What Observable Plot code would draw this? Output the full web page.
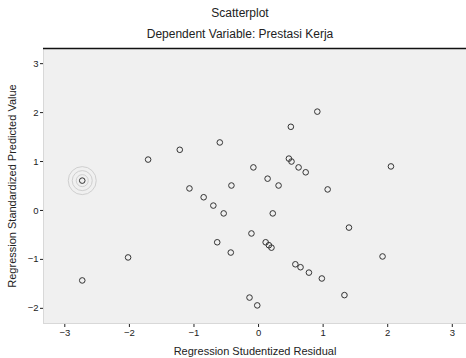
<!DOCTYPE html>
<html>
<head>
<meta charset="utf-8">
<script src="https://cdn.jsdelivr.net/npm/d3@7"></script>
<script src="https://cdn.jsdelivr.net/npm/@observablehq/plot@0.6"></script>
<style>
  html, body { margin: 0; padding: 0; background: #fff; }
  #wrap { position: relative; width: 466px; height: 358px; font-family: "Liberation Sans", Arial, sans-serif; color: #222; }
  .t { position: absolute; left: 0; width: 466px; padding-left: 14px; box-sizing: border-box; text-align: center; font-size: 12px; line-height: 14px; }
  #title { top: 6px; }
  #subtitle { top: 27px; }
  #chart { position: absolute; left: 0; top: 40px; }
  #chart svg g[aria-label="x-axis label"] text, #chart svg g[aria-label="y-axis label"] text { font-size: 11px; }
</style>
</head>
<body>
<div id="wrap">
  <div class="t" id="title">Scatterplot</div>
  <div class="t" id="subtitle">Dependent Variable: Prestasi Kerja</div>
  <div id="chart"></div>
</div>
<script>
// Regression Studentized Residual (x)
const residual = [-2.73, -2.73, -2.02, -1.71, -1.22, -1.07, -0.85, -0.70, -0.60, -0.54,
  -0.64, -0.43, -0.42, -0.11, -0.08, 0.14, 0.31, 0.22, 0.11, 0.16,
  0.20, 0.47, 0.51, 0.62, 0.73, 0.50, 0.91, 1.07, 0.57, 0.65,
  0.78, 0.98, 1.33, 1.40, 1.92, 2.05, -0.14, -0.02];
// Regression Standardized Predicted Value (y)
const predicted = [0.61, -1.43, -0.96, 1.04, 1.24, 0.45, 0.27, 0.10, 1.39, -0.06,
  -0.65, -0.86, 0.51, -0.47, 0.88, 0.65, 0.51, -0.06, -0.65, -0.71,
  -0.76, 1.06, 1.00, 0.88, 0.78, 1.71, 2.02, 0.43, -1.10, -1.16,
  -1.27, -1.39, -1.73, -0.35, -0.94, 0.90, -1.78, -1.94];
// highlighted (circled) case
const highlightX = [-2.73];
const highlightY = [0.61];
const ringRadii = [6, 10, 14];

const xTicks = [-3, -2, -1, 0, 1, 2, 3];
const yTicks = [-2, -1, 0, 1, 2, 3];
const xDomain = [-3.33, 3.22];
const yDomain = [-2.31, 3.31];

const points = residual.map((x, i) => ({x, y: predicted[i]}));
const rings = ringRadii.map(r => ({x: highlightX[0], y: highlightY[0], r}));

const chart = Plot.plot({
  width: 466,
  height: 318,
  marginTop: 8,
  marginBottom: 35,
  marginLeft: 43,
  marginRight: 0,
  style: {fontFamily: "Liberation Sans, Arial, sans-serif", fontSize: "9.5px", color: "#222", background: "transparent"},
  r: {type: "identity"},
  x: {domain: xDomain, ticks: xTicks, tickSize: 4, tickPadding: 2, tickFormat: d3.format("d"),
      label: "Regression Studentized Residual", labelAnchor: "center", labelOffset: 31, labelArrow: "none"},
  y: {domain: yDomain, ticks: yTicks, tickSize: 3, tickPadding: 2, tickFormat: d3.format("d"),
      label: "Regression Standardized Predicted Value", labelAnchor: "center", labelOffset: 35, labelArrow: "none"},
  marks: [
    Plot.frame({fill: "#f0f0f0", stroke: "#d8d8d8"}),
    Plot.ruleY([yDomain[1]], {stroke: "#111", strokeWidth: 1.6}),
    Plot.dot(rings, {x: "x", y: "y", r: "r", stroke: "#cfcfcf", strokeWidth: 1, fill: "none"}),
    Plot.dot(points, {x: "x", y: "y", r: 2.8, stroke: "#333", strokeWidth: 1, fill: "none"})
  ]
});
document.getElementById("chart").appendChild(chart);
</script>
</body>
</html>
